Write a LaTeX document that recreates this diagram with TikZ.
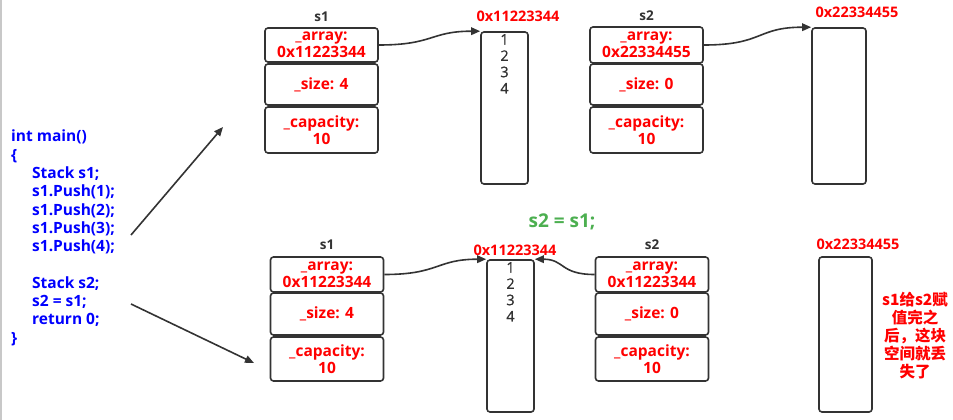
\documentclass[tikz,border=0pt]{standalone}
\usepackage{fontspec}
\setmainfont{Open Sans}
\newfontfamily\cjk{Noto Sans CJK SC}
\newfontfamily\numfont{Open Sans}[FakeBold=0.8]
\usetikzlibrary{arrows.meta}
\definecolor{ink}{HTML}{333333}
\definecolor{codeblue}{RGB}{0,0,255}
\definecolor{addr}{RGB}{255,0,0}
\definecolor{grn}{RGB}{76,175,80}
\definecolor{edge}{HTML}{C8C8C8}
\begin{document}
\begin{tikzpicture}[x=1pt,y=-1pt,
  cell/.style={draw=ink, line width=1.6pt, rounded corners=3pt, text=addr,
    font=\fontsize{15.5}{17}\selectfont\bfseries, align=center, inner sep=0pt,
    minimum width=113pt},
  arrbox/.style={draw=ink, line width=1.6pt, rounded corners=3pt, inner sep=0pt},
  lbl/.style={text=ink, font=\fontsize{13.5}{16}\selectfont\bfseries, inner sep=0pt},
  addrlbl/.style={text=addr, font=\fontsize{14.5}{17}\selectfont\bfseries, inner sep=0pt},
  link/.style={draw=ink, line width=1.6pt, -{Triangle[length=9pt,width=7.5pt]}},
  nums/.style={text=ink, font=\numfont\fontsize{14.5}{16.3}\selectfont, align=center,
    inner sep=0pt, anchor=north},
  code/.style={text=codeblue, font=\fontsize{15.5}{18.3}\selectfont\bfseries,
    align=left, inner sep=0pt, anchor=north west},
  note/.style={text=addr, font=\cjk\bfseries\fontsize{15.5}{18}\selectfont,
    align=center, inner sep=0pt}
]
\fill[white] (0,0) rectangle (953,420);
\useasboundingbox (0,0) rectangle (953,420);
\draw[edge, line width=2pt] (1,0) -- (1,420);

% code
\node[code] (code) at (11,130) {int main()\\
\{\\
\hspace*{21pt}Stack s1;\\
\hspace*{21pt}s1.Push(1);\\
\hspace*{21pt}s1.Push(2);\\
\hspace*{21pt}s1.Push(3);\\
\hspace*{21pt}s1.Push(4);\\[18.3pt]
\hspace*{21pt}Stack s2;\\
\hspace*{21pt}s2 = s1;\\
\hspace*{21pt}return 0;\\
\}};

% ---------- top row ----------
\node[lbl] (ts1) at (321.5,17) {s1};
\node[cell, minimum height=34pt] (t1a) at (321.5,45) {\_array:\\0x11223344};
\node[cell, minimum height=41pt] (t1s) at (321.5,84.5) {\_size: 4};
\node[cell, minimum height=46pt] (t1c) at (321.5,130) {\_capacity:\\10};

\node[addrlbl] (tad1) at (518,16) {0x11223344};
\node[arrbox, minimum width=47pt, minimum height=152pt] (tarr1) at (504.5,108) {};
\node[nums] (tn1) at (504.5,34) {1\\2\\3\\4};

\node[lbl] (ts2) at (646.5,16) {s2};
\node[cell, minimum height=36pt] (t2a) at (646.5,45) {\_array:\\0x22334455};
\node[cell, minimum height=41pt] (t2s) at (646.5,84.5) {\_size: 0};
\node[cell, minimum height=46pt] (t2c) at (646.5,130) {\_capacity:\\10};

\node[addrlbl] (tad2) at (857,12) {0x22334455};
\node[arrbox, minimum width=54pt, minimum height=156pt] (tarr2) at (839,106) {};

\draw[link] (t1a.east) .. controls +(55,0) and +(-50,0) .. (tarr1.north west);
\draw[link] (t2a.east) .. controls +(60,0) and +(-55,0) .. (tarr2.north west);

% ---------- bottom row ----------
\node[text=grn, font=\fontsize{19}{22}\selectfont\bfseries, inner sep=0pt] (assign) at (562,222) {s2 = s1;};

\node[lbl] (bs1) at (327,245) {s1};
\node[cell, minimum height=35pt] (b1a) at (327,274.5) {\_array:\\0x11223344};
\node[cell, minimum height=42pt] (b1s) at (327,314) {\_size: 4};
\node[cell, minimum height=44pt] (b1c) at (327,359) {\_capacity:\\10};

\node[addrlbl] (bad1) at (515,250) {0x11223344};
\node[arrbox, minimum width=47pt, minimum height=152pt] (barr1) at (510.5,336) {};
\node[nums] (bn1) at (510.5,262) {1\\2\\3\\4};

\node[lbl] (bs2) at (652,245) {s2};
\node[cell, minimum height=35pt] (b2a) at (652,274.5) {\_array:\\0x11223344};
\node[cell, minimum height=42pt] (b2s) at (652,314) {\_size: 0};
\node[cell, minimum height=44pt] (b2c) at (652,359) {\_capacity:\\10};

\node[addrlbl] (bad2) at (858,244) {0x22334455};
\node[arrbox, minimum width=53pt, minimum height=155pt] (barr2) at (845.5,334.5) {};

\node[note] (lost) at (915,336) {s1给s2赋\\值完之\\后，这块\\空间就丢\\失了};

\draw[link] (b1a.east) .. controls +(55,0) and +(-50,0) .. (barr1.north west);
\draw[link] (b2a.west) .. controls +(-35,0) and +(30,0) .. (barr1.north east);

% ---------- diagonal arrows ----------
\coordinate (d1s) at (131,235);
\coordinate (d1e) at (223,127);
\coordinate (d2s) at (131,304);
\coordinate (d2e) at (254,363);
\draw[link] (d1s) -- (d1e);
\draw[link] (d2s) -- (d2e);
\end{tikzpicture}
\end{document}
